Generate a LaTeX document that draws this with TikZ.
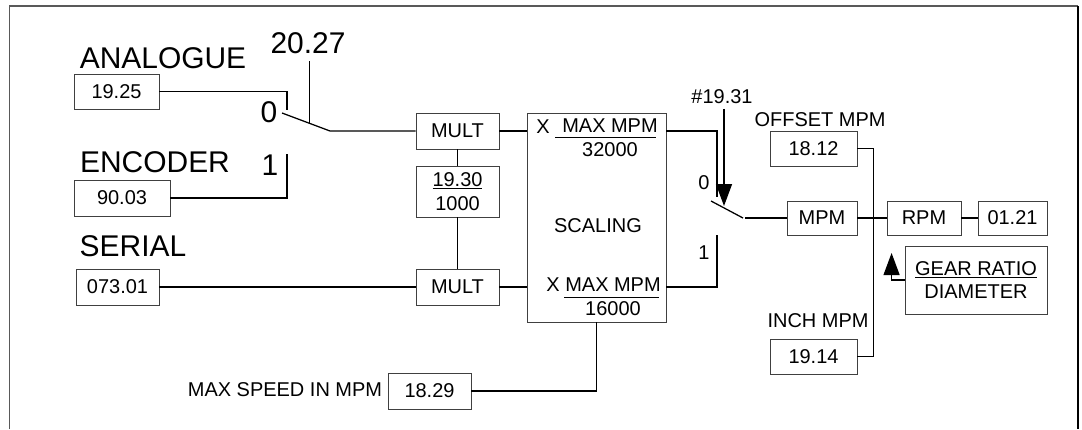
\documentclass[tikz,border=0pt]{standalone}
\usepackage{fontspec}
\setmainfont{Liberation Sans}
\usetikzlibrary{arrows.meta,calc}
\newcommand{\txtsmall}{\fontsize{14.2}{17}\selectfont}
\newcommand{\txtbig}{\fontsize{21.3}{25}\selectfont}

\begin{document}
\begin{tikzpicture}[
		x=0.025cm, y=-0.025cm,
		>={Triangle[width=0.4cm, length=0.55cm]},
		parbox/.style={draw=black!75, line width=0.6pt, inner sep=0pt, align=center, font=\txtsmall},
		biglabel/.style={font=\txtbig, inner sep=0pt},
		smalllabel/.style={font=\txtsmall, inner sep=0pt},
		wire/.style={line width=0.9pt}
		]
		
		\useasboundingbox (0,0) rectangle (1082,429);
		\draw[line width=0.8pt, black!65] (9.5,429) -- (9.5,6) -- (1078,6);
		\draw[line width=0.9pt] (1078,6) -- (1078,429);
		
		% Inputs
		\node[biglabel] (labana) at (163,58) {ANALOGUE};
		\node[biglabel] (labenc) at (155,162) {ENCODER};
		\node[biglabel] (labser) at (133,246) {SERIAL};
		\node[parbox, minimum width=2.125cm, minimum height=0.875cm] (p1925) at (116.5,91.5) {19.25};
		\node[parbox, minimum width=2.4cm, minimum height=0.9cm] (p9003) at (122,198) {90.03};
		\node[parbox, minimum width=2.075cm, minimum height=0.9cm] (p07301) at (117.5,287) {073.01};
		
		% Input selector
		\node[biglabel] (lab2027) at (308,43) {20.27};
		\node[biglabel] (labsa0) at (269,112) {0};
		\node[biglabel] (labsa1) at (270,165.5) {1};
		\coordinate (swAtop) at (287,110);
		\coordinate (swAbot) at (287,154);
		\coordinate (swApole) at (282,113);
		\coordinate (swAend) at (330,131);
		\coordinate (selA) at ($(swApole)!0.58!(swAend)$);
		
		% Multipliers
		\node[parbox, minimum width=2.075cm, minimum height=0.9cm] (multA) at (457.5,131) {MULT};
		\node[parbox, minimum width=2.075cm, minimum height=1.275cm] (ratio) at (457.5,191.5) {\underline{19.30}\\1000};
		\node[parbox, minimum width=2.075cm, minimum height=0.9cm] (multB) at (457.5,287) {MULT};
		
		% Scaling
		\node[parbox, minimum width=3.475cm, minimum height=5.225cm] (scaling) at (596.5,217.5) {};
		\node[smalllabel] (labscal) at (598,226) {SCALING};
		\node[smalllabel] (xtop) at (543,127) {X};
		\node[smalllabel] (maxtop) at (610,126) {MAX MPM};
		\node[smalllabel] (dentop) at (610,149.5) {32000};
		\draw[line width=0.6pt] (555,137) -- (656,137);
		\node[smalllabel] (xbot) at (553,284.5) {X};
		\node[smalllabel] (maxbot) at (613,284.5) {MAX MPM};
		\node[smalllabel] (denbot) at (613,308.5) {16000};
		\draw[line width=0.6pt] (564,297) -- (659,297);
		
		\node[smalllabel] (labmax) at (285,390) {MAX SPEED IN MPM};
		\node[parbox, minimum width=2.075cm, minimum height=0.9cm] (p1829) at (429.5,391) {18.29};
		
		% Output selector
		\node[smalllabel] (lab1931) at (722,96.5) {\#19.31};
		\node[smalllabel] (labsb0) at (704,183) {0};
		\node[smalllabel] (labsb1) at (704,252.5) {1};
		\coordinate (swBtop) at (717,197);
		\coordinate (swBbot) at (717,235);
		\coordinate (swBpole) at (711,201);
		\coordinate (swBend) at (743,218);
		\coordinate (selBtip) at (724,206);
		
		% Output column
		\node[smalllabel] (laboff) at (820,120) {OFFSET MPM};
		\node[parbox, minimum width=2.175cm, minimum height=0.875cm] (p1812) at (813.5,148.5) {18.12};
		\node[parbox, minimum width=1.75cm, minimum height=0.85cm] (mpm) at (822,218) {MPM};
		\node[parbox, minimum width=1.85cm, minimum height=0.85cm] (rpm) at (924,218) {RPM};
		\node[parbox, minimum width=1.725cm, minimum height=0.85cm] (p0121) at (1012.5,218) {01.21};
		\node[parbox, minimum width=3.55cm, minimum height=1.7cm] (gear) at (976,280) {\underline{GEAR RATIO}\\DIAMETER};
		\node[smalllabel] (labinch) at (818,321) {INCH MPM};
		\node[parbox, minimum width=2.175cm, minimum height=0.875cm] (p1914) at (813.5,356.5) {19.14};
		
		% Wires
		\draw[wire] (p1925.east) -| (swAtop);
		\draw[wire] (p9003.east) -| (swAbot);
		\draw[wire] (swApole) -- (swAend) -- (multA.west);
		\draw[wire] (selA) -- ($(selA |- lab2027.south)+(0,7)$);
		
		\draw[wire] (multA.east) -- (scaling.west |- multA.east);
		\draw[wire] (multA) -- (ratio);
		\draw[wire] (ratio) -- (multB);
		\draw[wire] (p07301.east) -- (multB.west);
		\draw[wire] (multB.east) -- (scaling.west |- multB.east);
		\draw[wire] (scaling.south) |- (p1829.east);
		
		\draw[wire] (scaling.east |- multA.east) -| (swBtop);
		\draw[wire] (scaling.east |- multB.east) -| (swBbot);
		\draw[wire] (swBpole) -- (swBend);
		\draw[wire] ($(swBend)+(2,0)$) -- (mpm.west);
		\draw[wire, ->] ($(selBtip |- lab1931.south)+(0,5)$) -- (selBtip);
		
		\draw[wire] (p1812.east) -- ++(16,0) |- (p1914.east);
		\draw[wire] (mpm) -- (rpm);
		\draw[wire] (rpm) -- (p0121);
		\draw[wire, ->] (gear.west) -- ++(-13,0) -- ++(0,-27);
		
	\end{tikzpicture}
\end{document}
